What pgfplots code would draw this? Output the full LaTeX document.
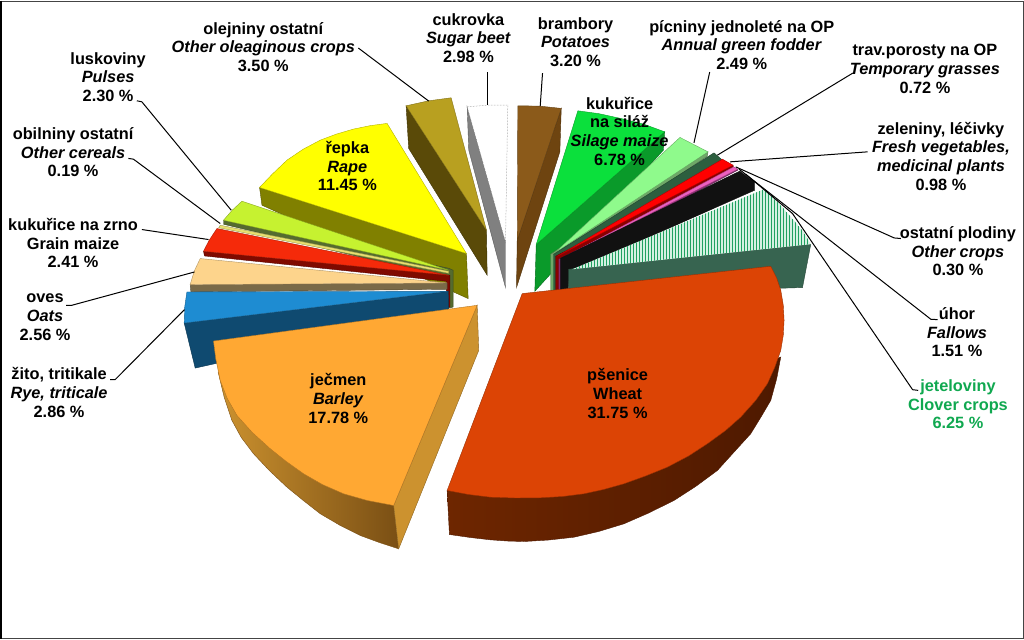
\documentclass[border=0pt]{standalone}
\usepackage{fontspec}
\setmainfont{Liberation Sans}
\usepackage{pgfplots}
\pgfplotsset{compat=1.18}
\usetikzlibrary{patterns.meta}

\definecolor{cWheat}{HTML}{DC4405}
\definecolor{cWheatS}{HTML}{4E1900}
\definecolor{cBarley}{HTML}{FFA833}
\definecolor{cBarleyS}{HTML}{CC922F}
\definecolor{cRape}{HTML}{FFFF00}
\definecolor{cRapeS}{HTML}{808000}
\definecolor{cOil}{HTML}{B8A020}
\definecolor{cOilS}{HTML}{5A4A08}
\definecolor{cPot}{HTML}{8B5A1A}
\definecolor{cPotS}{HTML}{6E4410}
\definecolor{cSil}{HTML}{0BE03C}
\definecolor{cSilS}{HTML}{0A9A2A}
\definecolor{cAnn}{HTML}{8FFA8C}
\definecolor{cAnnS}{HTML}{6FA868}
\definecolor{cTemp}{HTML}{2D5F3F}
\definecolor{cPink}{HTML}{EE5FC0}
\definecolor{cClov}{HTML}{1FA060}
\definecolor{cClovL}{HTML}{D5F0E2}
\definecolor{cClovS}{HTML}{376450}
\definecolor{cPul}{HTML}{C6F230}
\definecolor{cPulS}{HTML}{556B2F}
\definecolor{cCer}{HTML}{E8E070}
\definecolor{cMaize}{HTML}{F52A0A}
\definecolor{cMaizeS}{HTML}{7F0A00}
\definecolor{cOats}{HTML}{FDD48C}
\definecolor{cOatsS}{HTML}{7A6A48}
\definecolor{cRye}{HTML}{1E8CD2}
\definecolor{cRyeS}{HTML}{0F4A70}
\definecolor{cGreenTxt}{HTML}{10A850}
\definecolor{cBlack}{HTML}{111111}
\definecolor{cRedS}{HTML}{8B0000}
\definecolor{cPinkS}{HTML}{8B2D74}
\definecolor{cBarleyD}{HTML}{7A4F14}
\definecolor{cWheatL}{HTML}{6E2600}
\definecolor{cFrame}{HTML}{444444}

% filled polygon in picture pixels
\newcommand{\slice}[2]{\addplot[fill=#1, draw=#1!70!black, line width=0.4pt] coordinates {#2} --cycle;}
\newcommand{\leader}[1]{\addplot[black, line width=1pt] coordinates {#1};}
\newcommand{\lab}[3]{\node[align=center, inner sep=0pt, font=\fontsize{16.3}{18.7}\selectfont\bfseries] at (axis cs:#1,#2) {#3};}

\begin{document}
\begin{tikzpicture}
\begin{axis}[
    width=1024pt, height=639pt, scale only axis,
    xmin=0, xmax=1024, ymin=0, ymax=639,
    y dir=reverse, hide axis, clip=true
]
% back left
\slice{cRapeS}{(259.3,187.3) (261.7,205) (467.7,298.3) (466,253.3)}
\slice{cRape}{(259.3,187.3) (272,174) (286.7,160) (303,149) (320,140) (336,134) (353,129) (370,125.5) (386.7,123.3) (466,253.3)}
\slice{cOilS}{(405.7,105.7) (408.3,148.3) (486.7,275) (486,230)}
\slice{cOil}{(405.7,105.7) (428.3,100.7) (450.7,97.7) (486,230)}
\slice{gray}{(466.7,106.7) (468.3,150) (505,287.3) (505,241.7)}
\addplot[fill=white, draw=gray, densely dotted, line width=0.5pt] coordinates {(466.7,106.7) (487,105) (507.3,105) (505,241.7)} --cycle;
\slice{cPotS}{(560.7,108.3) (559.3,151.7) (516,287.3) (516.7,240)}
\slice{cPot}{(517.3,105.7) (539,106) (560.7,108.3) (516.7,240)}
% thin slices at the left
\slice{cPulS}{(223.3,220) (223.3,224) (448,278) (448,308) (452.7,306.7) (452.7,270) (448.3,268)}
\slice{cPul}{(241.7,201) (232,210) (223.3,220) (448.3,270)}
\slice{cCer}{(220,225) (218.5,227.5) (448.3,273) (448.3,271)}
\slice{cMaizeS}{(203.3,251) (204.3,255.7) (446,281) (446,306.7) (449.5,306.7) (449.5,275)}
\slice{cMaize}{(216.7,228.3) (209,240) (203.3,251) (448.3,275)}
\slice{cOatsS}{(190,284.3) (190.7,291.7) (446.7,289) (446.7,282.7)}
\slice{cOats}{(200,258.3) (194,271) (190,284.3) (446.7,282.7)}
\slice{cRyeS}{(184,322.7) (195,367.7) (448.3,311.7) (448,291)}
\slice{cRye}{(186.7,291.7) (184.5,307) (184,322.7) (447,291)}
% barley
\addplot[left color=cBarleyS, right color=cBarleyD, draw=cBarleyD, line width=0.4pt] coordinates {(218,372) (224,397) (231.7,420) (241,437) (253.3,453.3) (269,470) (286.7,486.7) (303,500) (320,513.3) (340,525) (360,535) (379,542) (398.3,548.3) (393.3,505)} --cycle;
\slice{cBarleyS}{(393.3,505) (398.3,548.3) (478.3,350) (476.7,305)}
\slice{cBarley}{(476.7,305) (213.3,340.7) (215.5,358) (220,380) (227,398) (236.7,415) (252,432) (270,448.3) (286,461) (303.3,473.3) (322,484) (343.3,493.3) (367,500) (393.3,505)}
% back right
\slice{cSilS}{(664,131.7) (662.7,150) (534.3,291) (535.7,244.3)}
\slice{cSil}{(577.3,110.7) (598,113.5) (620,118.3) (643,124) (664,131.7) (535.7,244.3)}
\slice{cAnnS}{(707.3,151.7) (706.7,156) (555,258) (555,294) (550,294) (550,254)}
\slice{cAnn}{(679.3,137.3) (707.3,151.7) (553.3,253.3)}
\slice{cTemp}{(713.3,152.7) (721.7,160) (556,260) (556,294) (553,294) (553,254)}
\slice{cRedS}{(732.3,165) (732.7,167) (559,262) (559,294) (555,294) (555,256)}
\slice{red}{(721.7,159) (732.3,165) (556.7,256)}
\slice{cPinkS}{(737,169) (737,170) (561,263) (561,294) (558.3,294) (558.3,259)}
\slice{cPink}{(733,166.7) (737,169) (559.3,259.3)}
\slice{cBlack}{(739,171) (754,182) (754,190) (569,272) (567,294) (560,294) (560,258)}
\slice{cClovS}{(568,269) (568,294) (801.7,287.3) (810,244)}
\addplot[fill=cClovL, draw=none] coordinates {(571.7,269) (763.3,189) (779,204) (793,220) (803,232) (810,244)} --cycle;
\addplot[pattern={Lines[angle=90,distance=3pt,line width=1.3pt]}, pattern color=cClov, draw=none] coordinates {(571.7,269) (763.3,189) (779,204) (793,220) (803,232) (810,244)} --cycle;
% wheat
\addplot[left color=cWheatL, right color=cWheatS, draw=cWheatS, line width=0.4pt] coordinates {(446.7,490) (449,534) (470,537) (490,539.3) (507,540.5) (523.3,541) (548,539.5) (573.3,536.7) (598,531) (623.3,523.3) (648,512.5) (673.3,500) (695,486) (716.7,470) (733,452) (750,433.3) (760,417) (770,400) (776,378) (780,356.7)} --cycle;
\slice{cWheat}{(521.7,293.3) (770,266) (776,278) (780,290) (782.5,305) (783.3,320) (782.5,335) (780,350) (774,367) (766.7,383.3) (755,400) (740,416.7) (725,430) (706.7,443.3) (688,455.5) (666.7,466.7) (645,475.5) (623.3,483.3) (603,489) (583.3,493.3) (562,496) (540,497.3) (515,497.5) (490,496.7) (468,494) (446.7,490)}
% leader lines
\leader{(358,48) (428.3,101)}
\leader{(487,72) (487,105)}
\leader{(542,73) (539.7,105.7)}
\leader{(709,72) (693.3,142.7)}
\leader{(852,73) (716.7,155)}
\leader{(866.7,151.7) (729.3,161.7)}
\leader{(900,238.3) (893.3,237.7) (735,166.7)}
\leader{(936.7,319.3) (930,319) (738.3,169)}
\leader{(917.3,390) (911.7,389.3) (791.7,213.3) (745,174)}
\leader{(136.7,100.7) (141.7,101.7) (231,210)}
\leader{(128.3,158.3) (133.3,159) (220,223.3)}
\leader{(141.7,229.3) (208.3,239.3)}
\leader{(66,305) (71.7,305) (194.3,271.7)}
\leader{(110,379.3) (115,379.3) (184.3,309.3)}
% frame
\addplot[cFrame, line width=1pt] coordinates {(1,1.5) (1022.5,1.5) (1022.5,637.5) (1,637.5)};
\addplot[black, line width=2pt] coordinates {(1,1) (1,638)};
% labels
\lab{468}{38}{cukrovka\\\textit{Sugar beet}\\2.98 \%}
\lab{575}{42}{brambory\\\textit{Potatoes}\\3.20 \%}
\lab{263}{47}{olejniny ostatní\\\textit{Other oleaginous crops}\\3.50 \%}
\lab{741}{45}{pícniny jednoleté na OP\\\textit{Annual green fodder}\\2.49 \%}
\lab{924}{69}{trav.porosty na OP\\\textit{Temporary grasses}\\0.72 \%}
\lab{108}{77}{luskoviny\\\textit{Pulses}\\2.30 \%}
\lab{940}{156}{zeleniny, léčivky\\\textit{Fresh vegetables,}\\\textit{medicinal plants}\\0.98 \%}
\lab{73}{152}{obilniny ostatní\\\textit{Other cereals}\\0.19 \%}
\lab{73}{243}{kukuřice na zrno\\Grain maize\\2.41 \%}
\lab{45}{317}{oves\\\textit{Oats}\\2.56 \%}
\lab{59}{392}{žito, tritikale\\\textit{Rye, triticale}\\2.86 \%}
\lab{957}{251}{ostatní plodiny\\\textit{Other crops}\\0.30 \%}
\lab{956}{332}{úhor\\\textit{Fallows}\\1.51 \%}
\lab{957}{404}{\color{cGreenTxt}jeteloviny\\\color{cGreenTxt}Clover crops\\\color{cGreenTxt}6.25 \%}
\lab{338}{398}{ječmen\\\textit{Barley}\\17.78 \%}
\lab{617}{393}{pšenice\\Wheat\\31.75 \%}
\lab{347}{166}{řepka\\\textit{Rape}\\11.45 \%}
\lab{619}{131}{kukuřice\\na siláž\\\textit{Silage maize}\\6.78 \%}
\end{axis}
\end{tikzpicture}
\end{document}
